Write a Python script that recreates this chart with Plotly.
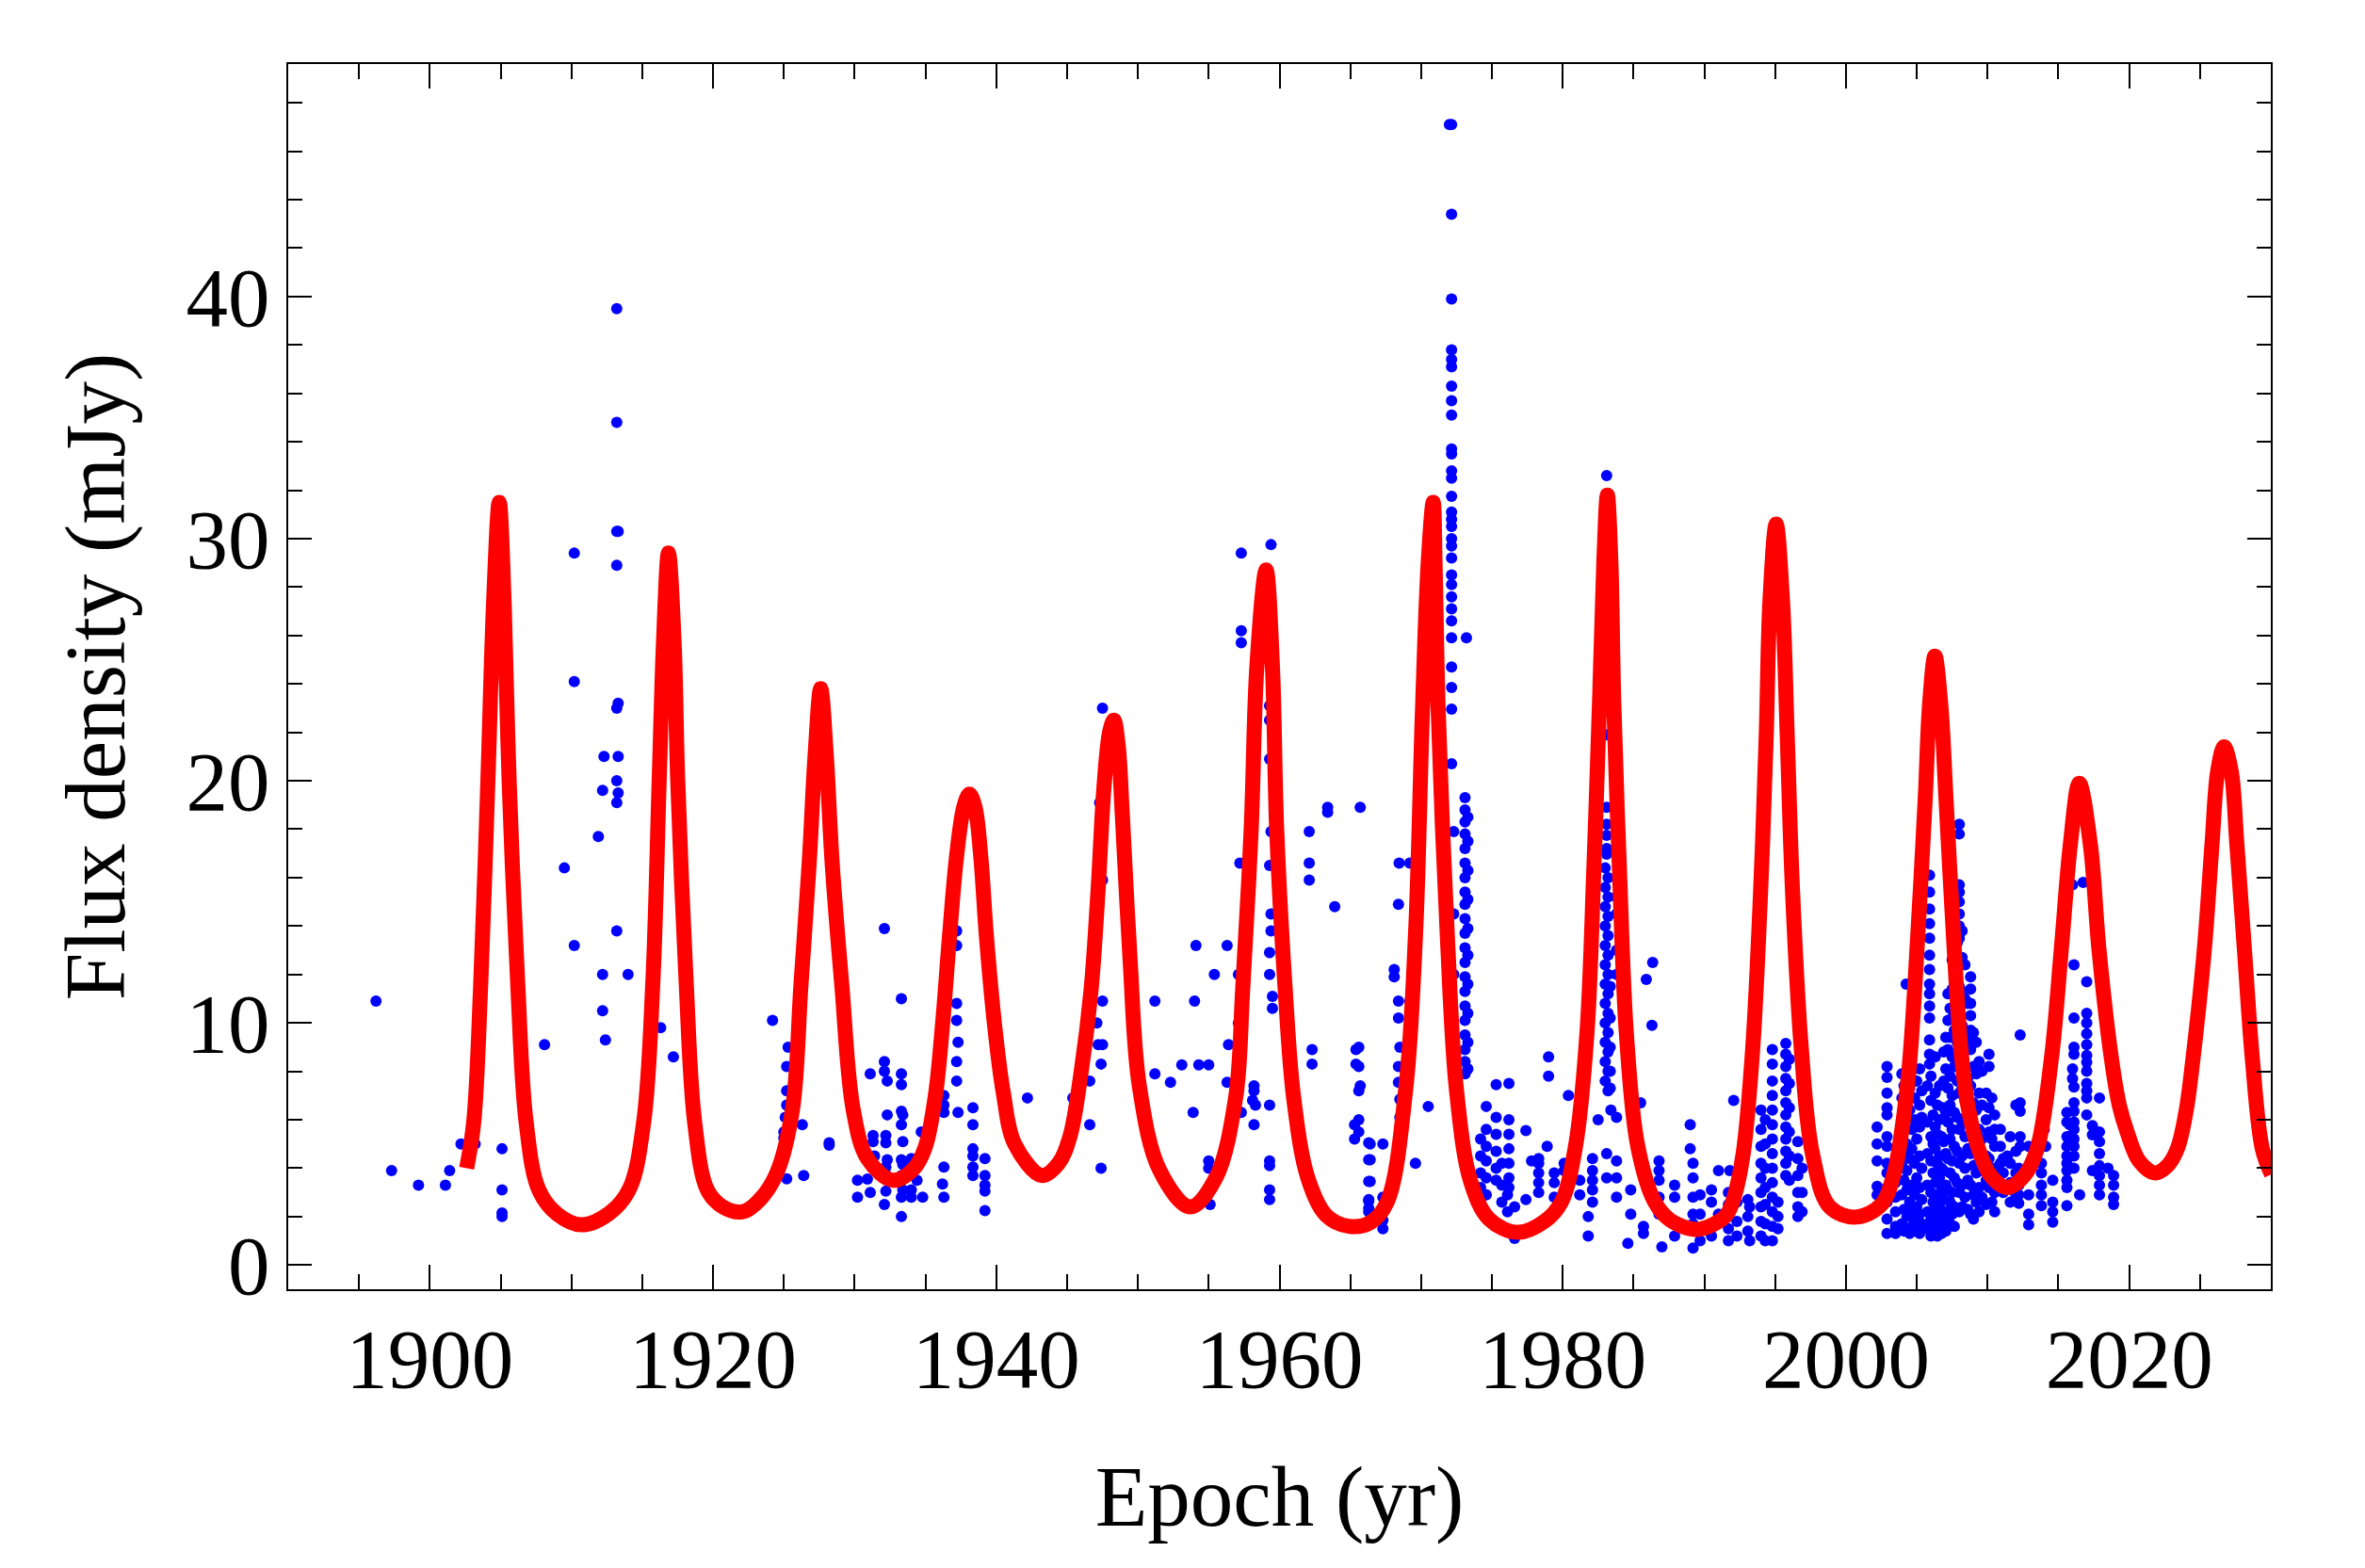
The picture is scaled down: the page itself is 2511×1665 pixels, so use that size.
import plotly.graph_objects as go

# ---------------- observed light curve (epoch, [flux values]) ----------------
obs_1896_1920 = [
    (1896.2, [10.9]), (1897.3, [3.9]), (1899.2, [3.3]), (1901.1, [3.3]), (1901.4, [3.9]),
    (1902.2, [5.0]), (1903.2, [5.0]), (1905.1, [4.8, 3.1, 2.15, 2.0]), (1908.1, [9.1]),
    (1909.5, [16.4]), (1910.2, [29.4, 24.1, 13.2]), (1911.9, [17.7]), (1912.2, [19.6, 12.0, 10.5]),
    (1912.3, [21.0]), (1912.4, [9.3]),
    (1913.2, [39.5, 34.8, 30.3, 28.9, 23.0, 20.0, 19.1, 13.8]), (1913.3, [30.3, 23.2, 21.0, 19.5]),
    (1914.0, [12.0]), (1916.3, [9.8]), (1917.2, [8.6]),
]
obs_1920_1945 = [
    (1924.2, [10.1]), (1925.3, [9.0]), (1925.2, [8.2, 7.2, 6.6, 3.56]), (1925.1, [6.1]),
    (1925.0, [5.5, 5.25]), (1926.3, [5.8]), (1926.4, [3.7]), (1928.2, [5.05, 4.95]),
    (1932.1, [13.9, 8.4, 8.0, 2.5]), (1933.3, [11.0, 7.9, 7.45, 6.35, 5.8, 4.35, 3.7, 2.8, 2.0]),
    (1931.1, [7.9, 3.0]), (1932.3, [7.6, 6.2, 4.35]), (1933.4, [6.2, 5.1, 4.15, 3.1]),
    (1931.3, [5.35, 5.1]), (1932.2, [5.35, 5.05, 4.05, 3.75, 3.05]), (1931.4, [4.5]),
    (1934.0, [4.4, 4.1, 3.1, 2.8]), (1930.2, [3.5, 2.8]), (1930.9, [3.55]), (1934.4, [3.5]),
    (1934.8, [2.8]), (1934.7, [5.5]), (1937.2, [13.8, 13.2, 10.8, 10.1, 8.4, 7.6]),
    (1937.3, [9.2, 6.3]), (1936.3, [7.0, 6.6, 6.3, 4.05, 2.8]), (1936.2, [3.35]),
    (1938.35, [6.5, 5.8, 4.8, 4.5, 4.05, 3.7]), (1939.2, [4.4, 3.7, 3.3, 3.05, 2.25]),
    (1942.2, [6.9]), (1945.4, [6.9]),
]
obs_1945_1966 = [
    (1945.6, [6.9]), (1946.5, [10.0]), (1947.1, [10.0]), (1946.6, [7.6, 5.8]), (1947.2, [9.1]),
    (1947.3, [19.1]), (1947.4, [8.3, 4.0]), (1947.5, [23.0, 15.9, 10.9, 9.1]),
    (1951.2, [10.9, 7.9]), (1952.3, [7.55]), (1953.1, [8.27]), (1954.3, [8.27]),
    (1955.0, [8.27, 4.3, 4.0]), (1954.1, [13.2]), (1954.0, [10.9]), (1955.4, [12.0]),
    (1956.3, [13.2, 7.55]), (1953.9, [6.3]), (1955.1, [3.3, 2.5]), (1957.1, [12.0, 10.0]),
    (1956.4, [9.1]), (1957.0, [9.1]), (1957.2, [16.6]), (1957.3, [29.4, 26.2, 25.7, 6.3]),
    (1959.4, [29.75, 17.9, 14.5, 13.8]),
    (1959.3, [23.1, 22.5, 20.9, 16.5, 12.9, 12.0, 6.6, 4.3, 4.1, 3.1, 2.7]),
    (1959.5, [11.1, 10.6]), (1958.2, [7.4, 7.2, 5.8]), (1958.1, [6.8]), (1958.3, [6.6]),
    (1962.1, [17.9, 16.6, 15.9]), (1963.4, [18.9, 18.7]), (1965.7, [18.9]), (1963.9, [14.8]),
    (1962.3, [8.9, 8.3]), (1965.4, [8.9, 8.3]), (1965.7, [7.4]), (1965.3, [5.8, 5.2]),
    (1966.3, [5.05, 4.35, 3.45, 2.7, 2.2]),
]
obs_1966_1976 = [
    (1972.0, [47.1]),
    (1972.15, [47.1, 43.4, 39.9, 37.8, 37.4, 37.1, 36.3, 35.7, 35.1, 33.7, 33.5, 32.8, 32.5,
               31.75, 31.1, 30.8, 30.5, 30.0, 29.7, 29.2, 28.5, 28.1, 27.6, 27.1, 26.6, 25.9,
               24.7, 23.85, 22.96, 20.7]),
    (1972.3, [17.9, 14.5, 12.0]), (1973.2, [25.9]),
    (1973.1, [19.3, 18.8, 18.3, 17.8, 17.2, 16.6, 16.0, 15.4, 14.9, 14.3, 13.7, 13.1, 12.5,
              11.9, 11.3, 10.7, 10.1, 9.5, 8.9, 8.4, 7.9]),
    (1973.3, [18.5, 17.5, 16.3, 15.1, 13.9, 12.8, 11.6, 10.4, 9.2, 8.1]),
    (1968.45, [16.6]), (1969.2, [16.6, 10.9]), (1968.4, [14.9, 10.9, 10.2, 8.2, 7.55]),
    (1968.1, [12.2, 11.9]), (1968.5, [9.0, 6.85, 6.1]), (1965.6, [9.0, 8.2, 7.2, 6.0, 5.5]),
    (1966.4, [5.0, 4.35, 3.45]), (1967.3, [5.0, 2.8, 1.85, 1.5]), (1966.3, [2.65, 2.35]),
    (1970.5, [6.55]), (1969.6, [4.2]),
    (1974.6, [6.55, 5.6, 4.9, 4.3, 3.6, 2.9]), (1975.3, [7.45, 6.1, 5.4, 4.7, 4.0, 3.5]),
    (1974.2, [5.2, 4.5, 3.8, 3.2, 2.6]), (1975.7, [4.2, 3.3, 2.6]), (1976.1, [2.9, 2.2]),
]
obs_1976_1992 = [
    (1976.2, [7.5, 6.0, 5.4, 4.8, 4.2, 3.6, 3.2]), (1977.4, [5.55, 2.7]), (1976.6, [2.4, 1.1]),
    (1979.0, [8.6, 7.8]), (1980.4, [7.0]), (1978.9, [4.9]), (1978.3, [4.4, 4.2, 3.8, 3.4, 3.0]),
    (1977.8, [4.3]), (1979.4, [3.8, 3.4, 2.8]), (1980.1, [4.2, 3.9]), (1981.2, [3.5, 2.9]),
    (1981.8, [1.2, 2.0]), (1982.1, [4.4, 3.9, 3.5, 3.1, 2.6]), (1982.5, [6.0]),
    (1983.1, [32.6, 26.1, 24.6, 21.9, 18.9, 18.2, 17.75, 17.2, 16.97, 4.6, 3.6]),
    (1983.0, [16.4, 15.6, 14.8, 14.0, 13.2, 12.4, 11.6, 10.8, 10.0, 9.2, 8.4, 7.6]),
    (1983.2, [16.0, 15.2, 14.4, 13.6, 12.8, 12.0, 11.2, 10.4, 9.6, 8.8, 8.0, 7.2]),
    (1983.35, [11.5, 10.2, 9.0, 8.0, 7.3]),
    (1983.8, [15.2, 14.5, 13.0, 12.0, 6.1, 4.3, 3.6, 2.8]), (1983.4, [6.4]),
    (1986.35, [12.5]), (1985.9, [11.8]), (1986.3, [9.9]), (1985.5, [6.7]), (1989.0, [5.8, 4.8]),
    (1984.8, [3.1, 2.1]), (1984.6, [0.9]), (1985.7, [1.6, 1.3]),
    (1986.8, [4.3, 3.9, 3.5, 2.8, 2.1]), (1987.0, [0.75]), (1987.9, [3.3, 2.8, 1.2]),
    (1989.2, [4.2, 3.6, 2.8, 2.1, 1.7, 0.7]), (1989.7, [2.9, 2.1, 1.0]),
    (1990.5, [2.6, 3.1, 1.2]), (1991.0, [2.1, 3.9]),
]
obs_1992_2004 = [
    (1992.07, [6.8]), (1991.8, [3.9]), (1991.7, [3.0, 2.5, 2.0, 1.5, 1.0]), (1992.3, [2.6, 1.8, 1.2]),
    (1993.07, [2.7, 2.0, 1.4]), (1993.2, [2.4, 1.0]),
    (1994.0, [6.4, 5.6, 4.9, 4.2, 3.6, 3.0, 2.4, 1.8, 1.2]), (1994.3, [6.0, 5.0, 4.0, 3.2, 2.5, 1.7, 1.0]),
    (1994.8, [8.9, 8.3, 7.6, 7.0, 6.4, 5.8, 5.2, 4.6, 4.0, 3.4, 2.8, 2.2, 1.6, 1.0]),
    (1995.2, [2.6, 2.0, 1.5]),
    (1995.75, [9.15, 8.7, 8.2, 7.7, 7.2, 6.7, 6.2, 5.7, 5.2, 4.7, 4.2, 3.7]),
    (1996.0, [8.5, 7.5, 6.5, 5.5, 4.5, 3.5]),
    (1996.6, [5.1, 4.4, 3.7, 3.0, 2.4, 2.0]), (1996.9, [4.0, 3.0, 2.2]),
    (2002.2, [5.7, 5.0, 4.3, 3.25, 2.9]),
    (2002.9, [8.2, 7.75, 7.1, 6.5, 6.2, 5.3, 4.9, 4.2, 3.8, 3.2, 2.6, 1.9, 1.3]),
    (2003.5, [3.4, 2.8, 2.2, 1.6, 1.3]),
]
obs_2004_2012 = [
    (2004.25, [11.6]),
    (2003.95, [7.9, 6.9, 5.3, 4.1, 2.9, 1.7]),
    (2004.1, [7.4, 6.2, 5.8, 4.6, 3.5, 2.3, 1.4]),
    (2004.3, [6.6, 5.0, 3.9, 3.1, 2.0]),
    (2004.5, [8.3, 7.3, 6.4, 4.4, 2.6, 1.3]),
    (2004.65, [7.7, 5.6, 4.8, 3.3, 2.2, 1.6]),
    (2004.85, [6.9, 6.0, 4.2, 2.9, 1.9]),
    (2005.0, [7.6, 5.2, 3.6, 2.4, 1.4]),
    (2005.2, [8.1, 6.6, 5.7, 4.5, 3.2, 2.1, 1.3]),
    (2005.35, [7.2, 6.1, 4.0, 2.7, 1.7]),
    (2005.9, [16.1, 15.4, 14.7, 14.1, 13.5, 12.8, 12.2, 11.6, 11.2, 10.7, 10.2, 9.3, 8.7, 8.3]),
    (2005.75, [7.4, 5.9, 4.6, 3.3, 2.2, 1.5]),
    (2006.0, [7.8, 6.8, 5.3, 4.3, 3.0, 1.9, 1.2]),
    (2006.15, [6.2, 5.0, 3.8, 2.6, 1.6]),
    (2006.3, [8.6, 7.1, 5.7, 4.8, 3.4, 2.3, 1.4]),
    (2006.45, [6.6, 5.4, 4.2, 2.9, 1.9, 1.2]),
    (2006.6, [7.4, 6.0, 4.5, 3.6, 2.5, 1.5]),
    (2006.75, [5.3, 4.0, 3.1, 2.0, 1.3]),
    (2006.9, [8.8, 7.6, 6.5, 5.1, 3.9, 2.7, 1.6]),
    (2007.05, [9.4, 8.1, 6.3, 4.6, 3.3, 2.2, 1.4]),
    (2007.2, [11.2, 10.1, 8.9, 7.3, 5.9, 4.4, 3.1, 2.0]),
    (2007.35, [10.6, 9.4, 7.8, 6.6, 5.2, 3.8, 2.6, 1.7]),
    (2007.5, [12.6, 11.4, 10.2, 8.6, 7.0, 5.6, 4.3, 3.0, 2.1]),
    (2007.65, [11.9, 9.7, 8.2, 6.3, 4.9, 3.6, 2.4, 1.6]),
    (2007.85, [13.3, 12.0, 10.8, 9.2, 7.6, 6.1, 4.7, 3.4, 2.3]),
    (2008.0, [18.2, 17.8, 15.7, 15.4, 15.0, 14.5, 14.0, 13.5, 12.6, 11.5, 10.4, 9.6, 8.3,
              7.1, 5.6, 4.2, 3.0, 2.2]),
    (2008.2, [13.8, 12.7, 11.3, 9.9, 8.7, 7.3, 5.9, 4.5, 3.3, 2.4]),
    (2008.4, [12.4, 11.0, 9.6, 8.2, 6.8, 5.3, 4.0, 2.8]),
    (2008.6, [10.8, 9.3, 7.7, 6.2, 4.8, 3.5, 2.3]),
    (2008.8, [11.9, 11.4, 10.8, 10.3, 9.7, 8.9, 7.4, 6.0, 4.6, 3.3, 2.1]),
    (2009.0, [9.6, 8.2, 6.7, 5.4, 4.1, 2.9, 1.9]),
    (2009.2, [9.2, 7.9, 6.4, 5.0, 3.8, 2.6]),
    (2009.4, [8.4, 7.1, 5.6, 4.3, 3.2, 2.2]),
    (2009.6, [8.0, 6.6, 5.2, 3.9, 2.8]),
    (2009.9, [7.1, 6.0, 4.5, 3.5, 2.5]),
    (2010.1, [8.7, 8.2, 6.5, 5.5, 4.4, 3.2]),
    (2010.3, [6.9, 5.2, 3.7, 2.6]),
    (2010.5, [6.2, 5.6, 4.9, 4.0, 3.0, 2.2]),
    (2010.9, [5.6, 4.9, 4.2, 3.8]),
    (2011.1, [4.4, 3.8, 3.0]),
    (2011.6, [5.3, 4.2, 3.4, 2.6]),
    (2012.0, [6.6, 4.7, 3.8, 2.9]),
]
obs_2012_2020 = [
    (2012.3, [9.5, 6.7, 6.35, 5.3, 4.9]), (2011.4, [4.5]), (2012.9, [4.9, 2.9, 2.1, 1.66]),
    (2012.2, [4.0, 3.7, 3.3, 2.9, 2.55]), (2013.8, [4.2, 3.8, 3.3, 2.9, 2.45]), (2014.0, [5.6]),
    (2014.1, [4.9]), (2014.6, [3.5, 2.6, 2.2, 1.77]),
    (2015.6, [6.3, 5.9, 5.3, 4.9, 4.5, 4.2, 3.9, 3.5, 3.2, 2.45]), (2015.8, [5.8, 5.3]),
    (2016.0, [15.7, 8.1, 7.7]), (2016.75, [15.8]),
    (2016.1, [12.4, 10.2, 9.0, 8.7, 7.35, 6.7, 6.35, 5.9, 5.6, 5.2, 4.9, 4.5, 4.0]),
    (2016.5, [2.9]),
    (2017.0, [11.7, 10.4, 10.0, 9.55, 9.1, 8.66, 8.37, 8.0, 7.5, 7.2, 6.9, 6.2]),
    (2017.4, [5.76, 5.38, 3.9]),
    (2017.9, [6.9, 5.5, 5.1, 4.6, 4.1, 3.7, 3.3, 2.9]), (2018.5, [4.0]),
    (2018.9, [3.7, 3.3, 2.8, 2.5]),
]

# ---------------- model light curve ----------------
model_year = [
    1902.6, 1903.1, 1903.6, 1904.1, 1904.5, 1904.9, 1905.25, 1905.6, 1906.2, 1906.8, 1907.7,
    1909.0, 1910.7, 1912.7, 1914.1, 1915.1, 1915.75, 1916.2, 1916.5, 1916.85, 1917.25, 1917.5,
    1918.1, 1918.7, 1919.6, 1920.7, 1922.1, 1923.3, 1924.5, 1925.6, 1926.2, 1926.8, 1927.2,
    1927.6, 1928.0, 1928.4, 1929.1, 1929.9, 1930.9, 1932.7, 1934.2, 1935.0, 1935.7, 1936.2,
    1936.7, 1937.2, 1937.7, 1938.1, 1938.5, 1938.9, 1939.3, 1939.9, 1940.5, 1941.3, 1943.2,
    1944.4, 1945.2, 1946.0, 1946.7, 1947.2, 1947.6, 1948.0, 1948.3, 1948.6, 1948.9, 1949.45,
    1950.1, 1951.55, 1953.7, 1955.5, 1956.9, 1957.4,
    1958.0, 1958.4, 1959.05, 1959.5, 1959.8, 1960.4, 1961.0, 1962.0, 1963.3, 1964.9, 1966.4,
    1967.6, 1968.9, 1969.6, 1970.1, 1970.5, 1970.85, 1971.0, 1971.2, 1971.85, 1972.5, 1973.5,
    1974.8, 1976.8, 1978.7, 1979.9, 1980.9, 1981.7, 1982.2, 1982.6, 1982.9, 1983.15, 1983.4,
    1983.6, 1984.0, 1984.5, 1985.3, 1986.5, 1987.6, 1989.4, 1990.7, 1991.6, 1992.1, 1992.74,
    1993.41, 1993.97, 1994.37, 1994.63, 1995.07, 1995.52, 1995.85, 1996.23, 1996.85, 1997.63,
    1998.85, 2000.7, 2002.5, 2003.4, 2004.0, 2004.5, 2005.06, 2005.6, 2005.9, 2006.28, 2006.7,
    2007.06, 2007.6, 2008.1, 2008.6, 2009.3, 2010.2, 2011.4, 2012.6, 2013.5, 2014.5, 2015.2,
    2015.85, 2016.47, 2017.25, 2017.87, 2018.75, 2019.3, 2019.85, 2020.7, 2021.8, 2022.7,
    2023.4, 2024.0, 2024.5, 2025.3, 2025.85, 2026.25, 2026.7, 2027.2, 2027.6, 2028.14, 2028.7,
    2029.4, 2030.05,
]
model_flux = [
    4.0, 5.9, 11.7, 20.0, 27.3, 31.5, 27.3, 20.0, 11.7, 5.9, 3.1,
    2.1, 1.66, 2.15, 3.15, 5.9, 11.7, 20.1, 25.7, 29.4, 25.7, 20.1,
    11.7, 5.9, 3.1, 2.4, 2.2, 2.7, 3.8, 6.4, 11.5, 16.7, 21.0,
    23.8, 21.0, 16.7, 11.5, 6.4, 4.4, 3.5, 4.0, 4.9, 7.0, 9.9,
    13.6, 16.9, 18.9, 19.45, 18.9, 16.9, 13.6, 9.8, 7.1, 5.0, 3.7,
    4.2, 5.3, 8.0, 11.4, 15.6, 19.7, 22.0, 22.5, 21.5, 18.6, 12.6,
    7.4, 3.9, 2.4, 3.6, 6.9, 11.4,
    18.0, 24.7, 28.7, 24.7, 18.0, 11.4, 6.9, 3.6, 2.05, 1.6, 1.75,
    2.6, 7.2, 13.6, 23.0, 29.0, 31.5, 28.5, 23.0, 13.6, 7.2, 3.45,
    1.9, 1.35, 1.8, 2.6, 4.9, 9.5, 16.4, 23.3, 29.0, 31.8, 29.0,
    23.3, 16.4, 9.5, 4.9, 2.6, 1.85, 1.47, 1.7, 2.1, 2.8, 4.6,
    8.9, 15.4, 21.9, 27.4, 30.6, 27.4, 21.9, 15.4, 8.9, 4.6,
    2.4, 1.98, 2.5, 3.8, 5.8, 8.4, 13.5, 19.3, 23.1, 25.15, 23.1,
    19.3, 13.5, 9.0, 6.6, 4.9, 3.7, 3.2, 3.7, 4.8, 8.5, 13.0,
    17.4, 19.9, 17.4, 13.0, 8.5, 6.6, 5.5, 4.3, 3.8, 4.1,
    4.8, 6.3, 8.5, 13.0, 17.4, 20.4, 21.4, 20.4, 17.4, 13.0, 8.5,
    4.8, 3.75,
]

x_tick_vals = [1900, 1920, 1940, 1960, 1980, 2000, 2020]
y_tick_vals = [0, 10, 20, 30, 40]

obs_groups = (obs_1896_1920 + obs_1920_1945 + obs_1945_1966 + obs_1966_1976 +
              obs_1976_1992 + obs_1992_2004 + obs_2004_2012 + obs_2012_2020)
obs_year = [yr for yr, vals in obs_groups for _ in vals]
obs_flux = [v for _, vals in obs_groups for v in vals]

FONT = "Liberation Serif"

fig = go.Figure()
fig.add_trace(go.Scatter(
    x=obs_year, y=obs_flux, mode="markers",
    marker=dict(color="#0000FF", size=12, line=dict(width=0)),
    showlegend=False, hoverinfo="skip",
))
fig.add_trace(go.Scatter(
    x=model_year, y=model_flux, mode="lines",
    line=dict(color="#FF0000", width=16, shape="spline", smoothing=1.0),
    showlegend=False, hoverinfo="skip",
))

axis_common = dict(
    showgrid=False, zeroline=False, showline=True, linecolor="black", linewidth=1.5,
    mirror="allticks", ticks="inside", tickcolor="black", tickwidth=1.5,
    tickfont=dict(family=FONT, size=89, color="black"),
)

fig.update_xaxes(
    **axis_common,
    range=[1890, 2030], tickvals=x_tick_vals, ticktext=[str(v) for v in x_tick_vals],
    ticklen=26,
    minor=dict(dtick=5, tick0=1890, ticks="inside", ticklen=16, tickcolor="black", tickwidth=1.5, showgrid=False),
    title=dict(text="Epoch (yr)", font=dict(family=FONT, size=91, color="black"), standoff=66),
    ticklabelstandoff=-5,
)
fig.update_yaxes(
    **axis_common,
    range=[-1.0, 49.6], tickvals=y_tick_vals, ticktext=[str(v) for v in y_tick_vals],
    ticklen=25,
    minor=dict(dtick=2, tick0=0, ticks="inside", ticklen=15, tickcolor="black", tickwidth=1.5, showgrid=False),
    title=dict(text="Flux density (mJy)", font=dict(family=FONT, size=91, color="black"), standoff=35),
    ticklabelstandoff=0,
)

# page body has an 8 px default margin; margins are compensated for it
fig.update_layout(
    width=2511, height=1665,
    paper_bgcolor="white", plot_bgcolor="white",
    margin=dict(l=298, r=108, t=60, b=304, autoexpand=False),
    font=dict(family=FONT, color="black"),
)

fig.write_html("out.html")
